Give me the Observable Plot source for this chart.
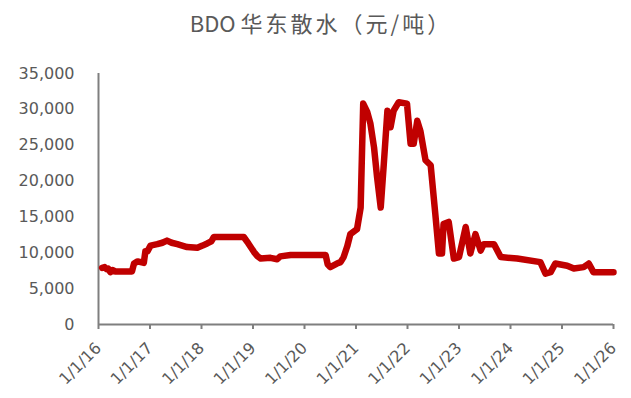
<!DOCTYPE html>
<html><head><meta charset="utf-8">
<script src="https://cdn.jsdelivr.net/npm/d3@7"></script>
<script src="https://cdn.jsdelivr.net/npm/@observablehq/plot@0.6"></script>
<style>
body{margin:0;background:#fff;}
#title{width:623px;padding-left:8px;height:44px;line-height:44px;text-align:center;font-family:"Noto Sans CJK SC";font-size:22px;color:#595959;white-space:nowrap;}
#title .cn{letter-spacing:3px;}
</style></head><body>
<div id="title"><span>BDO </span><span class="cn">华东散水（元/吨</span><span>）</span></div>
<div id="chart"></div>
<script>
// time as decimal years
const years = [2016.07,2016.12,2016.16,2016.19,2016.23,2016.27,2016.33,2016.65,2016.69,2016.76,2016.88,2016.91,2016.95,2017.01,2017.14,2017.24,2017.33,2017.42,2017.53,2017.72,2017.92,2018.02,2018.11,2018.19,2018.24,2018.82,2018.91,2019.02,2019.09,2019.15,2019.34,2019.47,2019.53,2019.73,2020.41,2020.45,2020.50,2020.63,2020.70,2020.76,2020.83,2020.89,2021.02,2021.09,2021.14,2021.22,2021.28,2021.35,2021.41,2021.48,2021.54,2021.61,2021.67,2021.73,2021.83,2021.99,2022.06,2022.12,2022.19,2022.25,2022.35,2022.45,2022.54,2022.61,2022.67,2022.70,2022.80,2022.90,2023.00,2023.13,2023.22,2023.32,2023.42,2023.48,2023.68,2023.81,2024.13,2024.58,2024.68,2024.78,2024.87,2025.10,2025.23,2025.42,2025.52,2025.61,2026.00];
const prices = [7900,8000,7700,7800,7300,7600,7400,7400,8500,8800,8600,10200,10200,11000,11200,11400,11700,11400,11200,10800,10700,11000,11300,11600,12200,12200,11300,10100,9500,9200,9300,9100,9500,9700,9700,8400,8000,8500,8700,9400,10900,12600,13300,16300,30800,29600,28000,24700,20500,16300,22400,29800,27500,29800,31000,30800,25200,25200,28400,27000,22900,22200,15400,9900,9900,14000,14300,9200,9400,13600,9900,12600,10300,11200,11200,9400,9200,8700,7100,7300,8500,8200,7800,8000,8500,7300,7300];
const yTicks = [0,5000,10000,15000,20000,25000,30000,35000];
const xTicks = [2016,2017,2018,2019,2020,2021,2022,2023,2024,2025,2026];
const xTickLabels = ["1/1/16","1/1/17","1/1/18","1/1/19","1/1/20","1/1/21","1/1/22","1/1/23","1/1/24","1/1/25","1/1/26"];

const data = years.map((t,i)=>({t, v: prices[i]}));
const chart = Plot.plot({
  width:631, height:354, marginTop:29, marginBottom:74, marginLeft:98, marginRight:18,
  style:{fontFamily:"DejaVu Sans", fontSize:"16px", color:"#595959", background:"#fff"},
  x:{domain:[2016,2026]},
  y:{domain:[0,35000]},
  marks:[
    Plot.axisY({ticks:yTicks, tickFormat:d3.format(","), tickSize:0, tickPadding:24, label:null, fill:"#595959"}),
    Plot.axisX({ticks:xTicks, tickFormat:d=>xTickLabels[xTicks.indexOf(d)], tickRotate:-45, tickSize:5, tickPadding:16, label:null, stroke:"#7f7f7f", strokeWidth:2, fill:"#595959"}),
    Plot.ruleX([2016],{y1:0,y2:35000, stroke:"#7f7f7f", strokeWidth:2}),
    Plot.ruleY([0],{stroke:"#7f7f7f", strokeWidth:2}),
    Plot.line(data,{x:"t",y:"v",stroke:"#C00000",strokeWidth:6.5,strokeLinejoin:"round",strokeLinecap:"round"})
  ]
});
document.getElementById("chart").appendChild(chart);
</script>
</body></html>
